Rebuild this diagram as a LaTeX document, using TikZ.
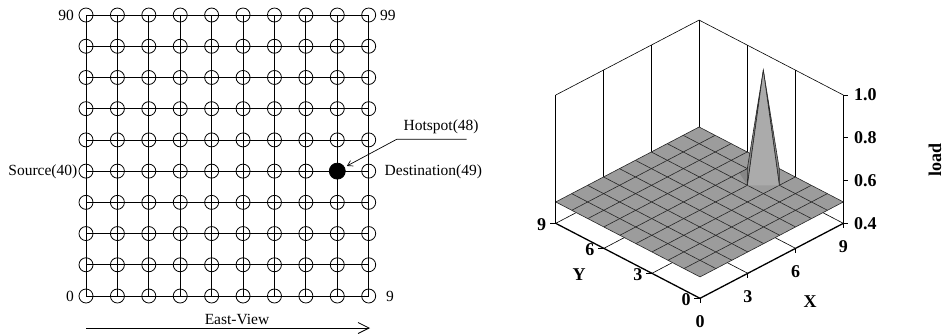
\documentclass[tikz,border=0pt]{standalone}
\usepackage{fontspec}
\setmainfont{Liberation Serif}
\usetikzlibrary{arrows.meta,backgrounds}
\definecolor{floorgray}{HTML}{9C9C9C}
\definecolor{spikegray}{HTML}{ABABAB}
\definecolor{darkface}{HTML}{878787}
\definecolor{meshline}{HTML}{262626}
\tikzset{
 router/.style={circle,draw,line width=0.8pt,minimum size=14pt,inner sep=0pt},
 hotnode/.style={circle,fill=black,draw,line width=0.8pt,minimum size=16pt,inner sep=0pt},
 meshedge/.style={line width=0.8pt},
 lbl/.style={inner sep=0pt,font=\fontsize{15.5}{18}\selectfont},
 plbl/.style={inner sep=0pt,font=\fontsize{18}{20}\selectfont\bfseries},
 axisline/.style={line width=1.3pt},
 axisthin/.style={line width=0.9pt},
 wallline/.style={line width=0.6pt},
 gridfloor/.style={line width=0.6pt,draw=meshline},
}
\begin{document}
\begin{tikzpicture}[x=1pt,y=-1pt]
\useasboundingbox (0,0) rectangle (944,333);
% ---------- mesh ----------
\foreach \r in {0,...,9}{
 \foreach \c in {0,...,9}{
  \pgfmathtruncatemacro\id{10*\r+\c}
  \ifnum\id=48
   \node[hotnode] (n-\r-\c) at ({86+\c*31.41},{296-\r*31.22}) {};
  \else
   \node[router] (n-\r-\c) at ({86+\c*31.41},{296-\r*31.22}) {};
  \fi
 }
}
\begin{pgfonlayer}{background}
\foreach \k in {0,...,9}{
 \draw[meshedge] (n-\k-0.center) -- (n-\k-9.center);
 \draw[meshedge] (n-0-\k.center) -- (n-9-\k.center);
}
\end{pgfonlayer}
\node[lbl,anchor=east] (t90) at (74,15) {90};
\node[lbl,anchor=west] (t99) at (380,15) {99};
\node[lbl,anchor=east] (t0) at (74,296) {0};
\node[lbl,anchor=west] (t9) at (386,296) {9};
\node[lbl,anchor=east] (tsrc) at (77.5,172) {Source(40)};
\node[lbl,anchor=west] (tdst) at (384.5,172) {Destination(49)};
\node[lbl,anchor=west] (thot) at (403.5,127) {Hotspot(48)};
\coordinate (hA) at (466.7,139.3);
\coordinate (hB) at (396.7,139.3);
\draw[line width=0.7pt,-{Straight Barb[length=5pt,width=6pt]},shorten >=2.5pt] (hA) -- (hB) -- (n-4-8);
\coordinate (ev1) at (86,328);
\coordinate (ev2) at (370,328);
\draw[line width=0.8pt,-{Straight Barb[length=11pt,width=11pt]}] (ev1) -- (ev2);
\node[lbl] (tev) at (237,319) {East-View};
% ---------- 3D plot ----------
\begin{scope}[shift={(700pt,-298.3pt)},x={(15.93pt,8.33pt)},y={(-16.03pt,8.33pt)},z={(0pt,213.8pt)}]
% base plane
\draw[wallline] (9,0,0) -- (9,9,0) -- (0,9,0);
\foreach \t in {3,6}{
 \draw[wallline] (\t,0,0) -- (\t,9,0);
 \draw[wallline] (0,\t,0) -- (9,\t,0);
}
% walls
\foreach \t in {3,6}{
 \draw[wallline] (\t,9,0) -- (\t,9,0.6);
 \draw[wallline] (9,\t,0) -- (9,\t,0.6);
}
\draw[line width=1pt] (9,9,0) -- (9,9,0.6);
\draw[wallline] (0,9,0.6) -- (9,9,0.6) -- (9,0,0.6);
% floor surface
\fill[floorgray] (0,0,0.1) -- (9,0,0.1) -- (9,9,0.1) -- (0,9,0.1) -- cycle;
\fill[darkface] (7,4,0.1) -- (7.5,5,0.1) -- (8,5,0.1) -- cycle;
\foreach \t in {0,...,9}{
 \draw[gridfloor] (\t,0,0.1) -- (\t,9,0.1);
 \draw[gridfloor] (0,\t,0.1) -- (9,\t,0.1);
}
% spike
\coordinate (pk) at (8,4,0.6);
\filldraw[fill=darkface,gridfloor] (7,4,0.1) -- (pk) -- (8,5,0.1) -- cycle;
\filldraw[fill=darkface,gridfloor] (8,3,0.1) -- (pk) -- (9,4,0.1) -- cycle;
\fill[spikegray] (7,4,0.1) -- (pk) -- (8,3,0.1) -- cycle;
\draw[gridfloor] (7,4,0.1) -- (pk) -- (8,3,0.1);
% axes
\draw[axisline] (0,9,0) -- (0,0,0) -- (9,0,0);
\draw[line width=0.8pt] (0,9,0) -- (0,9,0.6);
\draw[axisthin] (9,0,0) -- (9,0,0.6);
\foreach \v/\z/\k in {0.4/0/1,0.6/0.2/2,0.8/0.4/3,1.0/0.6/4}{
 \draw[axisthin] (9,0,\z) -- ([xshift=5pt]9,0,\z);
 \node[plbl,anchor=west] (zl\k) at ([xshift=10.5pt]9,0,\z) {\v};
}
\foreach \t in {0,3,6,9}{
 \draw[axisthin] (0,\t,0) -- ([xshift=-6pt]0,\t,0);
 \node[plbl] (yl\t) at ([xshift=-14pt,yshift=-1.5pt]0,\t,0) {\t};
 \draw[axisthin] (\t,0,0) -- ([yshift=-5pt]\t,0,0);
 \node[plbl] (xl\t) at ([yshift=-23pt]\t,0,0) {\t};
}
\end{scope}
\node[plbl] (lx) at (810,301.7) {X};
\node[plbl] (ly) at (579,274.3) {Y};
\node[plbl,rotate=90] (lz) at (935,160) {load};
\end{tikzpicture}
\end{document}
